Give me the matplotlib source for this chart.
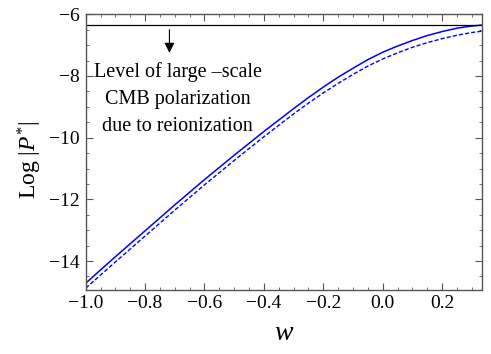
import matplotlib
matplotlib.use("Agg")
import matplotlib.pyplot as plt
from matplotlib.ticker import MultipleLocator

plt.rcParams['font.family'] = ['Liberation Serif', 'DejaVu Serif']
plt.rcParams['mathtext.fontset'] = 'custom'
plt.rcParams['mathtext.rm'] = 'Liberation Serif'
plt.rcParams['mathtext.it'] = 'Liberation Serif:italic'

# --- data ---
w_vals = [-1.0, -0.9, -0.8, -0.7, -0.6, -0.5, -0.4, -0.35, -0.3, -0.25, -0.2,
          -0.15, -0.1, -0.05, 0.0, 0.05, 0.1, 0.15, 0.2, 0.25, 0.3, 1/3]
logp_solid = [-14.72, -13.86, -13.02, -12.18, -11.36, -10.57, -9.80, -9.43,
              -9.06, -8.70, -8.36, -8.04, -7.75, -7.47, -7.23, -7.03, -6.85,
              -6.69, -6.56, -6.45, -6.38, -6.35]
logp_dashed = [-14.88, -14.03, -13.19, -12.35, -11.53, -10.74, -9.97, -9.60,
               -9.23, -8.88, -8.55, -8.24, -7.95, -7.68, -7.45, -7.25, -7.07,
               -6.92, -6.79, -6.68, -6.59, -6.55]
cmb_level = -6.35
note_lines = ["Level of large \u2013scale", "CMB polarization", "due to reionization"]

fig = plt.figure(figsize=(4.91, 3.54), dpi=100)
ax = fig.add_axes([0.1745, 0.1816, 0.8065, 0.778])

ax.plot(w_vals, logp_solid, color='#0000ff', lw=1.1)
ax.plot(w_vals, logp_dashed, color='#0000ff', lw=1.0, ls=(0, (3, 1.5)))
ax.axhline(cmb_level, color='black', lw=0.9)

# arrow pointing down from the level line + note
ax.annotate('', xy=(-0.718, -7.25), xytext=(-0.718, -6.5),
            arrowprops=dict(arrowstyle='-|>', color='black', lw=0.8,
                            mutation_scale=15, shrinkA=0, shrinkB=0))
for i, line in enumerate(note_lines):
    ax.text(-0.69, -7.87 - 0.89 * i, line, ha='center', va='center', fontsize=14.5)

ax.set_xlim(-1.0, 1/3)
ax.set_ylim(-14.93, -6)
ax.xaxis.set_major_locator(MultipleLocator(0.2))
ax.xaxis.set_minor_locator(MultipleLocator(0.05))
ax.yaxis.set_major_locator(MultipleLocator(2))
ax.yaxis.set_minor_locator(MultipleLocator(0.5))
ax.tick_params(which='both', direction='in', top=True, right=True,
               color='#555555', labelsize=14, pad=4)
ax.tick_params(which='major', length=5, width=0.8)
ax.tick_params(which='minor', length=2.5, width=0.6)
for s in ax.spines.values():
    s.set_color('#555555')
    s.set_linewidth(1.0)

ax.set_xlabel(r'$w$', fontsize=20, labelpad=6)
ax.set_ylabel(r'Log $|P^{*}|$', fontsize=17)
ax.yaxis.set_label_coords(-0.105, 0.47)

fig.savefig('out.png', dpi=100)
